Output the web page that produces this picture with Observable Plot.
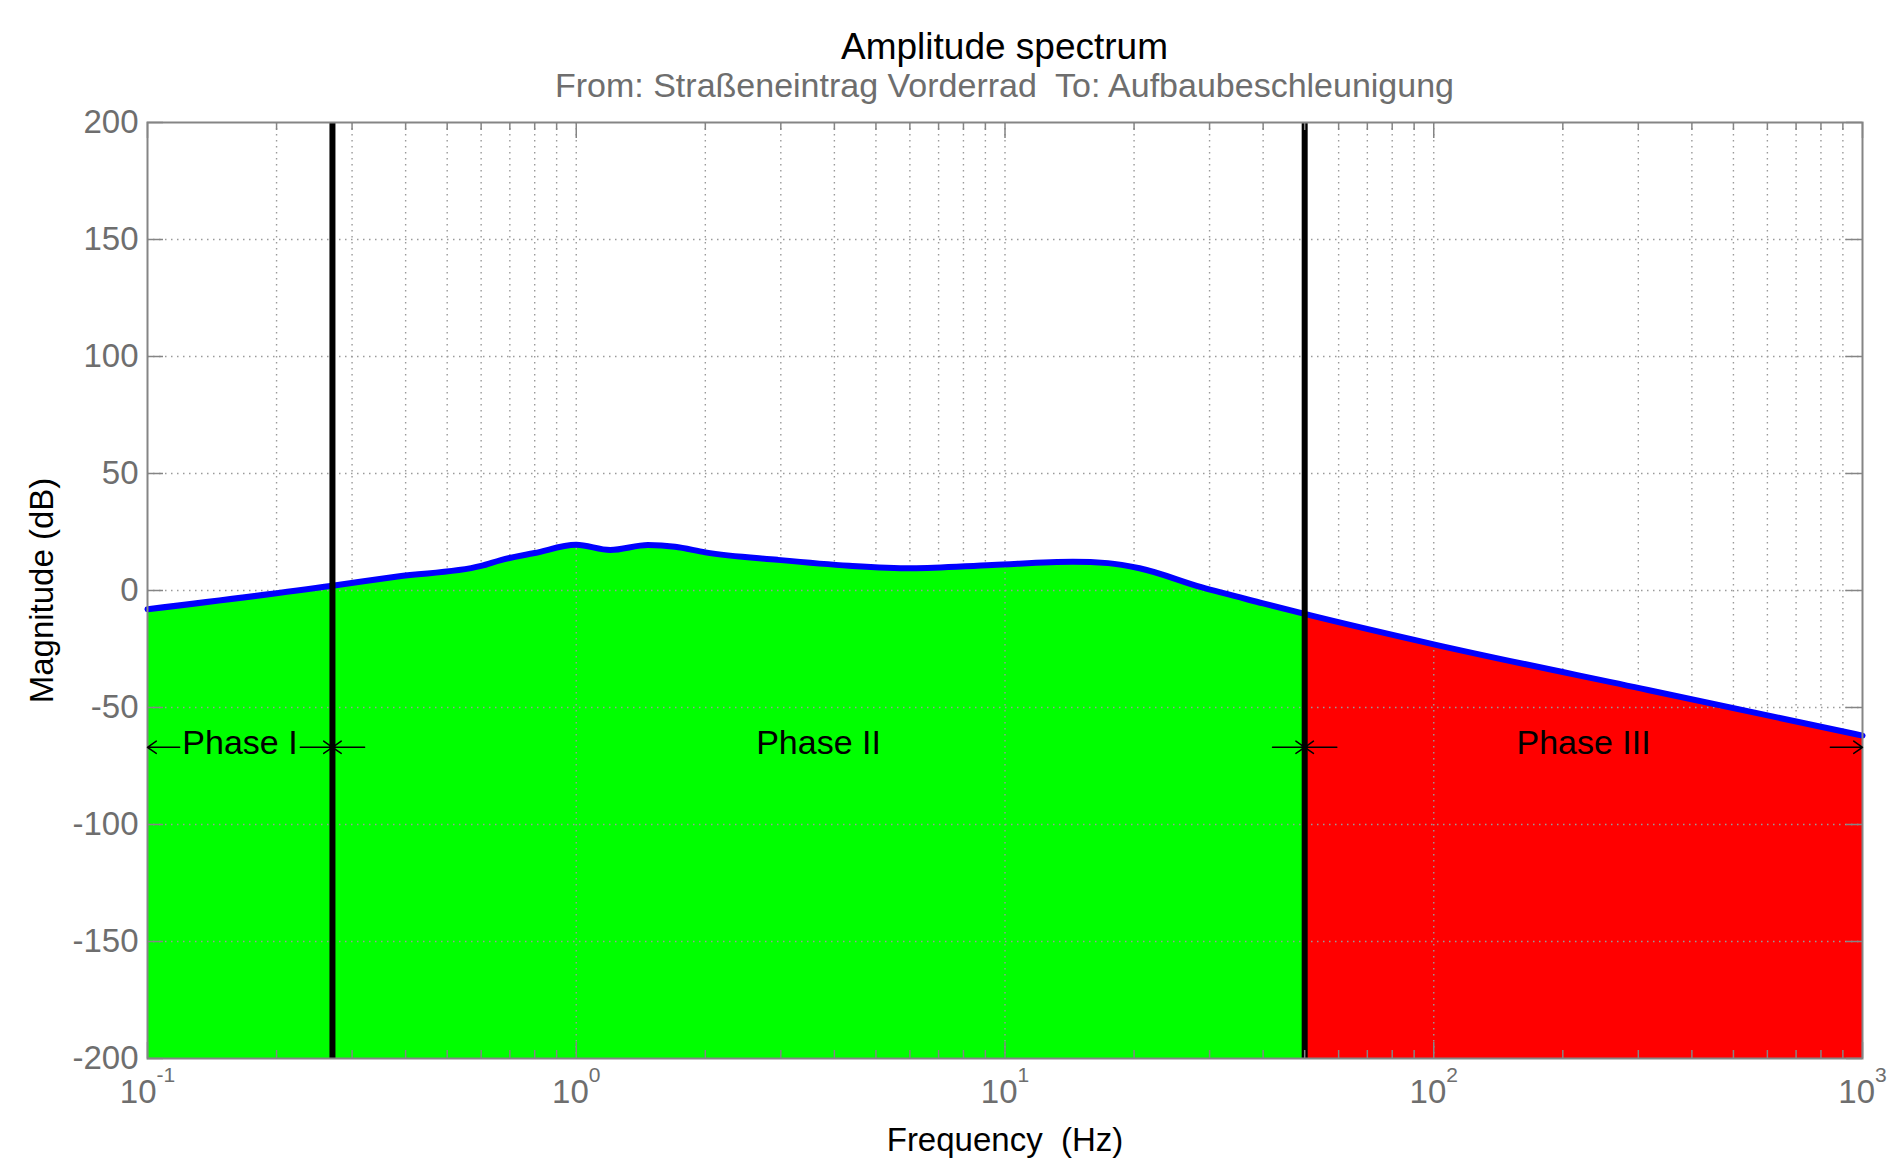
<!DOCTYPE html>
<html><head><meta charset="utf-8">
<script src="https://cdn.jsdelivr.net/npm/d3@7"></script>
<script src="https://cdn.jsdelivr.net/npm/@observablehq/plot@0.6"></script>
<style>
body{margin:0;background:#fff;}
#wrap{position:relative;width:1900px;height:1158px;font-family:"Liberation Sans",Arial,Helvetica,sans-serif;}
.t{position:absolute;left:147px;width:1715px;text-align:center;white-space:pre;line-height:1;z-index:2;}
#title{top:28px;font-size:37px;color:#000;}
#subtitle{top:68px;font-size:34px;color:#6e6e6e;}
#chart{position:absolute;left:0;top:100px;z-index:1;}
</style></head><body>
<div id="wrap">
<div id="title" class="t">Amplitude spectrum</div>
<div id="subtitle" class="t">From: Straßeneintrag Vorderrad  To: Aufbaubeschleunigung</div>
<div id="chart"></div>
</div>
<script>
// ---- data ----
const frequencyHz = [0.1, 0.27, 0.383, 0.6, 0.667, 0.8, 1.0, 1.2, 1.47, 1.7, 2.0, 2.95, 4.33, 6.05, 9.33, 14.4, 17.4, 20.6, 28.7, 40, 50, 100, 316, 1000];
const magnitudeDb = [-8, 2, 6, 10.5, 13, 16, 19.5, 17.3, 19.4, 18.7, 16.3, 13.1, 10.6, 9.5, 10.9, 12.3, 11.7, 9.5, 1.4, -5.5, -10, -23, -42.5, -62];
const phaseEdges = [0.1, 0.27, 50, 1000];
const phaseNames = ["Phase I", "Phase II", "Phase III"];
const phaseFills = ["#00ff00", "#00ff00", "#ff0000"];
const phaseLabelDb = -67;
const yTicks = [-200, -150, -100, -50, 0, 50, 100, 150, 200];
const xDecades = [0.1, 1, 10, 100, 1000];
const xExponents = [-1, 0, 1, 2, 3];
const minorMultipliers = [2, 3, 4, 5, 6, 7, 8, 9];

// ---- derived tables ----
const spectrum = frequencyHz.map((f, i) => ({f, db: magnitudeDb[i]}));
const phases = phaseNames.map((name, i) => ({name, a: phaseEdges[i], b: phaseEdges[i + 1], fill: phaseFills[i]}));
const minorX = xDecades.slice(0, -1).flatMap(d => minorMultipliers.map(m => d * m));
const arrowStep = Math.pow(10, 0.075);
const arrows = phases.flatMap(p => [{x1: p.a * arrowStep, x2: p.a}, {x1: p.b / arrowStep, x2: p.b}]);
const supMap = {"-": "\u207B", "0": "\u2070", "1": "\u00B9", "2": "\u00B2", "3": "\u00B3"};
const toSup = n => String(n).split("").map(c => supMap[c]).join("");

const W = 1900, H = 1058, mT = 22, mB = 100, mL = 147, mR = 38;
const plotW = W - mL - mR, plotH = H - mT - mB;
const gray = "#858585", labelGray = "#6e6e6e";
const font = "Liberation Sans, Arial, Helvetica, sans-serif";
const gridStyle = {stroke: "#9a9a9a", strokeWidth: 1.4, strokeDasharray: "1.5,4.5"};

const chart = Plot.plot({
  width: W, height: H, marginTop: mT, marginBottom: mB, marginLeft: mL, marginRight: mR,
  x: {type: "log", domain: [0.1, 1000], axis: null},
  y: {domain: [-200, 200], axis: null},
  style: {fontFamily: font, background: "transparent", overflow: "visible"},
  marks: [
    Plot.ruleX(minorX, {x: d => d, ...gridStyle}),
    ...phases.map(p => Plot.areaY(spectrum.filter(d => d.f >= p.a && d.f <= p.b),
      {x: "f", y1: -200, y2: "db", fill: p.fill, curve: "monotone-x"})),
    Plot.ruleY(yTicks.slice(1, -1), {y: d => d, ...gridStyle}),
    Plot.ruleX(xDecades.slice(1, -1), {x: d => d, ...gridStyle}),
    Plot.lineY(spectrum, {x: "f", y: "db", stroke: "#0000ff", strokeWidth: 6, curve: "monotone-x"}),
    Plot.ruleX(phaseEdges.slice(1, -1), {x: d => d, stroke: "black", strokeWidth: 6}),
    // inward tick marks
    Plot.ruleX(xDecades, {x: d => d, stroke: gray, strokeWidth: 1.5, insetTop: plotH - 16}),
    Plot.ruleX(xDecades, {x: d => d, stroke: gray, strokeWidth: 1.5, insetBottom: plotH - 16}),
    Plot.ruleX(minorX, {x: d => d, stroke: gray, strokeWidth: 1.5, insetTop: plotH - 8}),
    Plot.ruleX(minorX, {x: d => d, stroke: gray, strokeWidth: 1.5, insetBottom: plotH - 8}),
    Plot.ruleY(yTicks, {y: d => d, stroke: gray, strokeWidth: 1.5, insetRight: plotW - 16}),
    Plot.ruleY(yTicks, {y: d => d, stroke: gray, strokeWidth: 1.5, insetLeft: plotW - 16}),
    Plot.frame({stroke: gray, strokeWidth: 2}),
    // phase annotations
    Plot.arrow(arrows, {x1: "x1", x2: "x2", y1: phaseLabelDb, y2: phaseLabelDb, stroke: "black", strokeWidth: 1.5, headLength: 16, headAngle: 70}),
    Plot.text(phases, {x: p => Math.sqrt(p.a * p.b), y: phaseLabelDb, text: "name", fontSize: 34, fill: "black", dy: -4}),
    // tick labels
    Plot.text(xDecades, {x: d => d, frameAnchor: "bottom", dy: 44, text: (d, i) => "10" + toSup(xExponents[i]), fontSize: 33, fill: labelGray}),
    Plot.text(yTicks, {y: d => d, frameAnchor: "left", textAnchor: "end", dx: -9, text: d => String(d), fontSize: 33, fill: labelGray}),
    // axis labels
    Plot.text(["Frequency\u00A0 (Hz)"], {frameAnchor: "bottom", dy: 92, text: d => d, fontSize: 33, fill: "black"}),
    Plot.text(["Magnitude (dB)"], {frameAnchor: "left", textAnchor: "middle", dx: -105, rotate: -90, text: d => d, fontSize: 33, fill: "black"})
  ]
});

// render exponents as true superscripts
const inv = Object.fromEntries(Object.entries(supMap).map(([k, v]) => [v, k]));
const supChars = new Set(Object.values(supMap));
d3.select(chart).selectAll("text").each(function () {
  const s = this.textContent;
  if (s.length < 3 || !s.startsWith("10") || !supChars.has(s[2])) return;
  const exp = s.slice(2).split("").map(c => inv[c] ?? c).join("");
  while (this.firstChild) this.removeChild(this.firstChild);
  this.appendChild(document.createTextNode("10"));
  const ts = document.createElementNS("http://www.w3.org/2000/svg", "tspan");
  ts.setAttribute("dy", "-21");
  ts.setAttribute("font-size", "21");
  ts.textContent = exp;
  this.appendChild(ts);
});

document.getElementById("chart").appendChild(chart);
</script>
</body></html>
